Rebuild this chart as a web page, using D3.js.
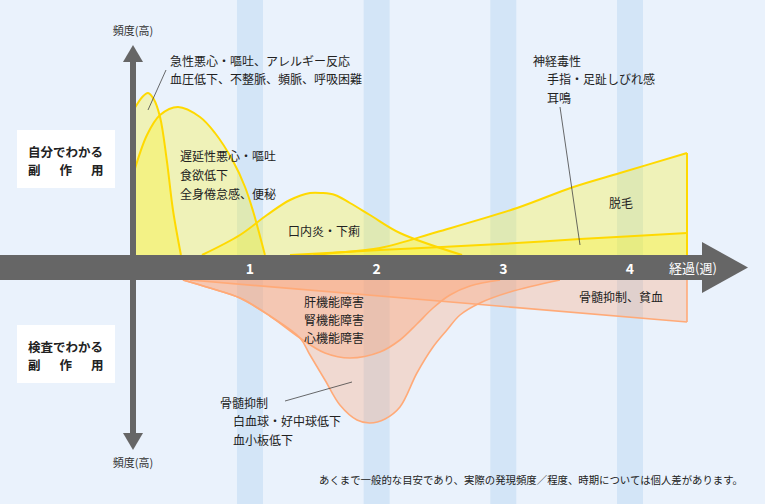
<!DOCTYPE html>
<html>
<head>
<meta charset="utf-8">
<script src="https://cdn.jsdelivr.net/npm/d3@7"></script>
<style>
body { margin: 0; background: #EAF2FC; }
svg { display: block; font-family: "Noto Sans CJK JP", "Noto Sans", sans-serif; }
</style>
</head>
<body>
<svg id="chart" width="765" height="504"></svg>
<script>
// ---- data: [week, frequency] ----
const weekTicks = [1, 2, 3, 4];
const xAxisTitle = "経過(週)";
const yAxisTitle = "頻度(高)";
const noteText = "あくまで一般的な目安であり、実際の発現頻度／程度、時期については個人差があります。";
const upperBoxLines = ["自分でわかる", "副作用"];
const lowerBoxLines = ["検査でわかる", "副作用"];

// upper side (自分でわかる副作用)
const acuteNausea = [[0.077, 72], [0.15, 79], [0.195, 81], [0.24, 78], [0.29, 69], [0.343, 47.5], [0.392, 22.5], [0.455, 0]];
const delayedNausea = [[0.077, 40], [0.187, 60], [0.29, 70], [0.432, 74], [0.605, 69], [0.724, 61], [0.866, 47], [0.961, 34], [1.024, 22], [1.118, 0]];
const stomatitis = [[0.621, 0], [0.921, 10], [1.134, 20], [1.316, 27.5], [1.474, 31], [1.569, 31], [1.671, 30], [1.789, 26], [1.947, 20], [2.184, 11], [2.674, 0]];
const hairLoss = [[1.5, 0], [1.655, 1], [2.026, 3.5], [2.476, 11.5], [3.108, 23.5], [3.553, 34], [3.921, 41], [4.45, 51]];
const neuropathy = [[1.316, 0], [2.026, 2.5], [2.974, 5.5], [3.605, 8], [4.45, 11]];

// lower side (検査でわかる副作用)
const anemia = [[0.527, 0], [4.45, 21]];
const organDamage = [[0.471, 0], [0.684, 4], [0.921, 9], [1.158, 18], [1.395, 29], [1.592, 36.5], [1.789, 39], [2.026, 36], [2.184, 30], [2.318, 22], [2.445, 14], [2.579, 7.5], [2.737, 3], [2.974, 0]];
const marrow = [[0.471, 0], [0.684, 4], [0.921, 9], [1.158, 18], [1.395, 29], [1.474, 37.5], [1.592, 50], [1.71, 62.5], [1.845, 70], [1.947, 71.5], [2.066, 69.5], [2.184, 63.5], [2.318, 46.5], [2.445, 33.5], [2.555, 25], [2.658, 17.5], [2.816, 11.5], [3.053, 6], [3.447, 0]];

const upperLabels = [
    ["急性悪心・嘔吐、アレルギー反応", "血圧低下、不整脈、頻脈、呼吸困難"],
    ["遅延性悪心・嘔吐", "食欲低下", "全身倦怠感、便秘"],
    ["口内炎・下痢"],
    ["神経毒性", "手指・足趾しびれ感", "耳鳴"],
    ["脱毛"]
];
const lowerLabels = [
    ["肝機能障害", "腎機能障害", "心機能障害"],
    ["骨髄抑制", "白血球・好中球低下", "血小板低下"],
    ["骨髄抑制、貧血"]
];

// ---- layout ----
const svg = d3.select("#chart");
const W = 765, H = 504;
const axisX = 133;

const x = d3.scaleLinear().domain([0, 4]).range([123.3, 630]);
const yUp = d3.scaleLinear().domain([0, 100]).range([255, 55]);
const yDown = d3.scaleLinear().domain([0, 100]).range([280, 480]);

svg.append("rect").attr("width", W).attr("height", H).attr("fill", "#EAF2FC");

svg.selectAll("rect.band")
    .data(weekTicks)
    .enter().append("rect")
    .attr("class", "band")
    .attr("x", d => x(d) - 13)
    .attr("width", 26)
    .attr("y", 0)
    .attr("height", H)
    .attr("fill", "#D3E5F7");

const curve = d3.curveCatmullRom.alpha(0.5);

function drawFill(points, y, color, opacity) {
    const area = d3.area()
        .x(d => x(d[0]))
        .y0(y(0))
        .y1(d => y(d[1]))
        .curve(curve);
    svg.append("path")
        .datum(points)
        .attr("d", area)
        .attr("fill", color)
        .attr("fill-opacity", opacity);
}

function drawEdge(points, y, color, width, closeEdge) {
    const line = d3.line()
        .x(d => x(d[0]))
        .y(d => y(d[1]))
        .curve(curve);
    svg.append("path")
        .datum(points)
        .attr("d", line)
        .attr("fill", "none")
        .attr("stroke", color)
        .attr("stroke-width", width);
    if (closeEdge) {
        const last = points[points.length - 1];
        svg.append("line")
            .attr("x1", x(last[0])).attr("x2", x(last[0]))
            .attr("y1", y(last[1])).attr("y2", y(0))
            .attr("stroke", color)
            .attr("stroke-width", width);
    }
}

const yellowSeries = [[acuteNausea, false], [delayedNausea, false], [stomatitis, false], [hairLoss, true], [neuropathy, true]];
const orangeSeries = [[anemia, true], [organDamage, false], [marrow, false]];

yellowSeries.forEach(s => drawFill(s[0], yUp, "#FFF500", 0.27));
yellowSeries.forEach(s => drawEdge(s[0], yUp, "#FFD900", 2, s[1]));
orangeSeries.forEach(s => drawFill(s[0], yDown, "#FFA06E", 0.3));
orangeSeries.forEach(s => drawEdge(s[0], yDown, "#FFAA78", 1.6, s[1]));

// ---- axes ----
const axisColor = "#666666";
svg.append("rect").attr("x", 0).attr("y", 255).attr("width", 703).attr("height", 25).attr("fill", axisColor);
svg.append("polygon").attr("points", "702,242 748,267.5 702,293").attr("fill", axisColor);
svg.append("rect").attr("x", axisX - 3).attr("y", 60).attr("width", 6).attr("height", 375).attr("fill", axisColor);
svg.append("polygon").attr("points", `${axisX - 10},62 ${axisX},45 ${axisX + 10},62`).attr("fill", axisColor);
svg.append("polygon").attr("points", `${axisX - 10},433 ${axisX},450 ${axisX + 10},433`).attr("fill", axisColor);

svg.selectAll("text.tick")
    .data(weekTicks)
    .enter().append("text")
    .attr("class", "tick")
    .attr("x", d => x(d))
    .attr("y", 267.5)
    .attr("dominant-baseline", "central")
    .attr("text-anchor", "middle")
    .attr("font-size", 14)
    .attr("font-weight", "bold")
    .attr("fill", "#fff")
    .text(d => d);

svg.append("text")
    .attr("x", 669).attr("y", 267.5)
    .attr("dominant-baseline", "central")
    .attr("font-size", 13)
    .attr("fill", "#fff")
    .text(xAxisTitle);

[30, 462].forEach(yy => svg.append("text")
    .attr("x", axisX).attr("y", yy)
    .attr("dominant-baseline", "central")
    .attr("text-anchor", "middle")
    .attr("font-size", 11)
    .attr("fill", "#333")
    .text(yAxisTitle));

// ---- boxes ----
function drawBox(top, lines) {
    svg.append("rect").attr("x", 17).attr("y", top).attr("width", 98).attr("height", 58).attr("fill", "#fff");
    svg.append("text")
        .attr("x", 28).attr("y", top + 21)
        .attr("dominant-baseline", "central")
        .attr("font-size", 12.5).attr("font-weight", "bold").attr("fill", "#222")
        .text(lines[0]);
    svg.append("text")
        .attr("x", "28 59.5 91").attr("y", top + 39)
        .attr("dominant-baseline", "central")
        .attr("font-size", 12.5).attr("font-weight", "bold").attr("fill", "#222")
        .text(lines[1]);
}
drawBox(130, upperBoxLines);
drawBox(325, lowerBoxLines);

// ---- leader lines ----
const leaders = [[166, 70, 148, 110], [560, 107, 580, 245], [285, 401, 352, 382]];
svg.selectAll("line.leader")
    .data(leaders)
    .enter().append("line")
    .attr("x1", d => d[0]).attr("y1", d => d[1])
    .attr("x2", d => d[2]).attr("y2", d => d[3])
    .attr("stroke", "#444")
    .attr("stroke-width", 0.8);

// ---- labels ----
function drawLabel(lines, lx, ly, indent, step) {
    lines.forEach((t, i) => {
        svg.append("text")
            .attr("x", lx + (i > 0 ? indent : 0))
            .attr("y", ly + i * step)
            .attr("dominant-baseline", "central")
            .attr("font-size", 12)
            .attr("fill", "#222")
            .text(t);
    });
}
drawLabel(upperLabels[0], 170, 60, 0, 18.5);
drawLabel(upperLabels[1], 180, 155, 0, 19);
drawLabel(upperLabels[2], 288, 230, 0, 19);
drawLabel(upperLabels[3], 533, 60, 14, 18.5);
drawLabel(upperLabels[4], 609, 202, 0, 19);
drawLabel(lowerLabels[0], 304, 301, 0, 18);
drawLabel(lowerLabels[1], 220, 402, 13, 18.5);
drawLabel(lowerLabels[2], 579, 296, 0, 19);

svg.append("text")
    .attr("x", 743).attr("y", 479)
    .attr("dominant-baseline", "central")
    .attr("text-anchor", "end")
    .attr("font-size", 10.4)
    .attr("fill", "#222")
    .text(noteText);
</script>
</body>
</html>
